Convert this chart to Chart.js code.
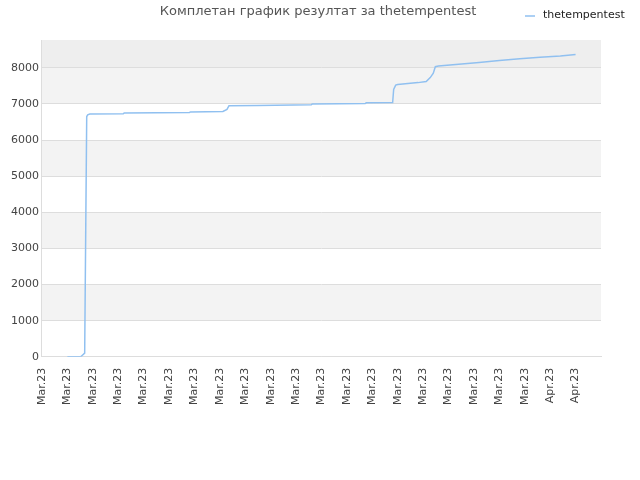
<!DOCTYPE html>
<html><head><meta charset="utf-8">
<script src="https://cdn.jsdelivr.net/npm/chart.js@4"></script>
<style>body{margin:0;background:#fff}#w{width:640px;height:480px}</style>
</head><body><div id="w"><canvas id="c"></canvas></div>
<script>
const xLabels = ["Mar.23","Mar.23","Mar.23","Mar.23","Mar.23","Mar.23","Mar.23","Mar.23","Mar.23","Mar.23","Mar.23","Mar.23","Mar.23","Mar.23","Mar.23","Mar.23","Mar.23","Mar.23","Mar.23","Mar.23","Apr.23","Apr.23"];
const yTicks = [0,1000,2000,3000,4000,5000,6000,7000,8000];
const xPos = [1,1.52,1.6,1.68,1.72,1.76,1.8,1.88,3.2,3.24,5.8,5.84,7.12,7.28,7.36,8.48,10.6,10.64,12.72,12.76,13.8,13.84,13.92,14,14.8,15.12,15.28,15.4,15.48,15.6,16.4,17.2,18,18.8,19.6,20.4,21];
const yVals = [0,0,50,100,3400,6650,6700,6720,6730,6750,6760,6780,6790,6850,6950,6960,6980,7000,7010,7030,7040,7400,7520,7540,7590,7620,7730,7850,8030,8050,8100,8150,8200,8250,8290,8330,8370];
const seriesName = "thetempentest";
const titleText = 'Комплетан график резултат за thetempentest';
const deco = {id:'deco',beforeDraw(ch){const {ctx,chartArea:a,scales:{y}}=ch;ctx.save();
 for(let v=0;v<8000;v+=1000){ctx.fillStyle=(v/1000)%2? '#f3f3f3':'#ffffff';const t=y.getPixelForValue(v+1000),b=y.getPixelForValue(v);ctx.fillRect(a.left,t,a.right-a.left,b-t);}
 ctx.fillStyle='#eeeeee';const t8=y.getPixelForValue(8000);ctx.fillRect(a.left,a.top,a.right-a.left,t8-a.top);ctx.restore();},
 afterDraw(ch){const ctx=ch.ctx;ctx.save();ctx.textBaseline='middle';
 ctx.fillStyle='#555';ctx.font='13px "DejaVu Sans"';ctx.textAlign='center';ctx.fillText(titleText,318,12);
 ctx.strokeStyle='#90c0f0';ctx.lineWidth=1.5;ctx.beginPath();ctx.moveTo(525,16);ctx.lineTo(535,16);ctx.stroke();
 ctx.fillStyle='#222';ctx.font='11px "DejaVu Sans"';ctx.textAlign='left';ctx.fillText(seriesName,543,15);ctx.restore();}};
new Chart(document.getElementById('c'),{type:'line',
 data:{datasets:[{label:seriesName,data:xPos.map((x,i)=>({x,y:yVals[i]})),borderColor:'#90c0f0',backgroundColor:'#90c0f0',borderWidth:1.5,pointRadius:0,tension:0,fill:false}]},
 options:{responsive:true,maintainAspectRatio:false,animation:false,
  layout:{padding:{left:8,right:39,top:40,bottom:72}},
  plugins:{title:{display:false},legend:{display:false},tooltip:{enabled:false}},
  scales:{x:{type:'linear',min:0,max:22,afterBuildTicks:s=>{s.ticks=xLabels.map((_,i)=>({value:i}));},ticks:{autoSkip:false,maxRotation:90,minRotation:90,color:'#444',font:{family:'DejaVu Sans',size:11},callback:(v)=>xLabels[v]??''},grid:{display:false},border:{color:'#ddd'}},
   y:{min:0,max:8770,afterBuildTicks:s=>{s.ticks=yTicks.map(v=>({value:v}));},ticks:{autoSkip:false,color:'#444',font:{family:'DejaVu Sans',size:11},callback:v=>String(v)},grid:{color:'#dddddd',drawTicks:false},border:{color:'#ddd'}}}},
 plugins:[deco]});
</script></body></html>
